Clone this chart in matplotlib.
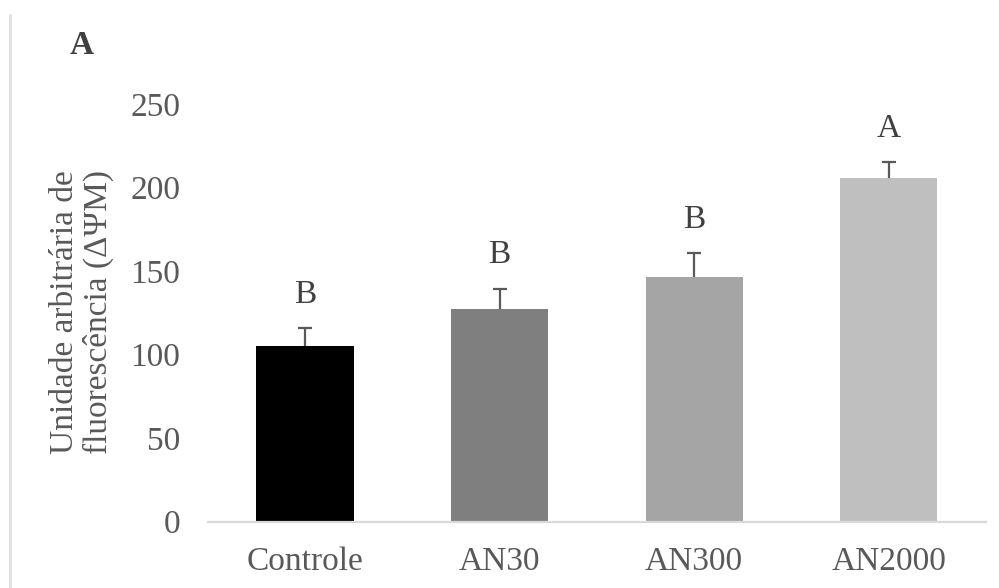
import numpy as np
import matplotlib
matplotlib.use('Agg')
import matplotlib.pyplot as plt
from matplotlib.lines import Line2D

# Data
groups = ['Controle', 'AN30', 'AN300', 'AN2000']
means = [105, 127.5, 146.5, 205.5]
errors = [11, 12, 14.5, 10]
letters = ['B', 'B', 'B', 'A']
yticks = [0, 50, 100, 150, 200, 250]

BAR_COLORS = ['#000000', '#7f7f7f', '#a5a5a5', '#bfbfbf']
C_TEXT = '#595959'
C_AXIS = '#d9d9d9'
FS = 24

plt.rcParams['font.family'] = ['Liberation Serif', 'DejaVu Serif']

fig = plt.figure(figsize=(9.99, 5.88), dpi=100)
fig.patch.set_facecolor('white')
ax = fig.add_axes([0.208, 0.1128, 0.779, 0.7102])

x = np.arange(len(groups))
ax.bar(x, means, width=0.5, color=BAR_COLORS, zorder=2)
_, caps, _ = ax.errorbar(x, means, yerr=[np.zeros(len(errors)), errors], fmt='none',
                         ecolor=C_TEXT, elinewidth=1.6, capsize=5, capthick=1.6, zorder=3)
# only the upper cap is shown (lower caps come first)
caps[0].set_visible(False)

# significance letters above error bars
for xi, m, e, lab in zip(x, means, errors, letters):
    ax.text(xi, m + e + 20, lab, ha='center', va='center',
            fontsize=FS, color='#404040', clip_on=False)

ax.set_xlim(-0.5, len(groups) - 0.5)
ax.set_ylim(0, 250)
ax.set_yticks(yticks)
ax.set_xticks(x)
ax.set_xticklabels(groups)
ax.tick_params(axis='both', length=0, labelsize=FS, colors=C_TEXT)
ax.tick_params(axis='y', pad=20)
ax.tick_params(axis='x', pad=18)

for s in ['top', 'right', 'left']:
    ax.spines[s].set_visible(False)
ax.spines['bottom'].set_color(C_AXIS)
ax.spines['bottom'].set_linewidth(1.6)

fig.text(0.082, 0.47, 'Unidade arbitrária de\nfluorescência (ΔΨM)',
         rotation=90, ha='center', va='center', multialignment='center',
         fontsize=FS, color=C_TEXT, linespacing=1.12)

fig.text(0.082, 0.923, 'A', ha='center', va='center', fontsize=FS,
         fontweight='bold', color='#404040')

# thin border line on the left edge
fig.add_artist(Line2D([0.010, 0.010], [0.0, 0.975], transform=fig.transFigure,
                      color='#e0e0e0', linewidth=2))

fig.savefig('out.png', dpi=100, facecolor='white')
